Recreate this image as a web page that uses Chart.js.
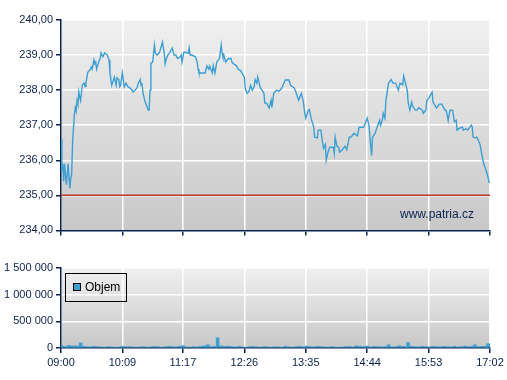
<!DOCTYPE html>
<html>
<head>
<meta charset="utf-8">
<script src="https://cdn.jsdelivr.net/npm/chart.js@4.4.0/dist/chart.umd.min.js"></script>
<style>
  body { margin: 0; background: #fff; }
  #wrap { position: relative; width: 507px; height: 380px; }
  canvas { position: absolute; left: 0; }
</style>
</head>
<body>
<div id="wrap">
  <canvas id="priceChart" width="507" height="240" style="top:0"></canvas>
  <canvas id="volChart" width="507" height="130" style="top:250px"></canvas>
</div>
<script>
// casove znacky osy x
var timeLabels = ['09:00', '10:09', '11:17', '12:26', '13:35', '14:44', '15:53', '17:02'];

// minuty od 09:00 a cena
var priceMinutes = [0, 1, 2, 3, 4, 6, 7, 8, 9, 10, 11, 12, 13, 15, 16, 17, 18, 19, 20, 21, 22, 24, 26, 27, 28, 30, 33, 34, 35, 37,
    38, 39, 40, 43, 44, 45, 47, 49, 52, 54, 55, 57, 60, 62, 63, 65, 66, 67, 69, 71, 73, 75, 78, 80, 81, 83, 85, 87, 89, 90,
    91, 92, 94, 96, 98, 99, 100, 101, 103, 105, 106, 108, 110, 111, 114, 116, 117, 118, 120, 122, 125, 127, 129, 131, 134, 135, 136, 138, 140, 143,
    144, 145, 147, 151, 153, 154, 155, 158, 162, 164, 166, 167, 170, 171, 173, 175, 178, 180, 181, 182, 183, 185, 188, 191, 192, 194, 197, 199, 202, 203,
    206, 207, 209, 211, 213, 215, 217, 218, 220, 221, 224, 226, 228, 229, 231, 234, 236, 237, 239, 242, 245, 248, 252, 256, 258, 262, 264, 267, 270, 272,
    274, 275, 278, 279, 281, 284, 285, 288, 289, 292, 293, 295, 297, 298, 300, 302, 306, 307, 308, 310, 312, 313, 316, 319, 321, 324, 326, 329, 333, 335,
    340, 341, 344, 346, 348, 349, 350, 353, 354, 356, 358, 359, 361, 362, 364, 365, 366, 368, 371, 373, 376, 379, 381, 384, 385, 386, 389, 390, 392, 394,
    395, 398, 400, 402, 406, 407, 410, 411, 413, 417, 418, 420, 422, 425, 428, 430, 433, 435, 437, 440, 442, 444, 445, 447, 451, 452, 455, 457, 461, 462,
    463, 465, 467, 469, 471, 473, 475, 479, 481, 482];
var priceValues = [236.6, 235.7, 235.9, 235.4, 235.9, 235.3, 235.6, 235.9, 235.5, 235.2, 235.5, 235.6, 236.5, 237.3, 237.5, 237.4, 237.7, 237.6, 237.95, 237.8, 237.7, 238.15, 238.2, 238.1, 238.2, 238.5, 238.6, 238.66, 238.6, 238.86,
    238.75, 238.8, 238.6, 238.85, 238.9, 239.06, 238.95, 239.06, 239.0, 238.86, 238.49, 238.14, 238.37, 238.14, 238.35, 238.3, 238.1, 238.14, 238.49, 238.09, 238.2, 238.1, 238.05, 238.0, 237.94, 238.0, 238.05, 238.2, 238.3, 238.14,
    238.2, 237.94, 237.71, 237.57, 237.43, 237.43, 238.0, 238.77, 238.8, 239.29, 239.06, 239.0, 239.05, 239.1, 239.37, 239.06, 238.75, 238.86, 239.0, 239.06, 239.2, 239.0, 239.0, 238.9, 238.95, 239.0, 238.8, 239.08, 239.08, 239.05,
    239.2, 239.0, 239.0, 238.95, 238.8, 238.6, 238.49, 238.49, 238.49, 238.69, 238.6, 238.69, 238.49, 238.7, 238.49, 238.8, 238.9, 239.29, 239.06, 238.95, 239.0, 238.8, 238.9, 238.9, 238.8, 238.75, 238.7, 238.6, 238.55, 238.5,
    238.37, 238.06, 237.91, 237.95, 238.14, 238.0, 238.1, 238.3, 238.2, 238.37, 238.06, 238.0, 237.91, 237.63, 237.63, 237.49, 237.71, 237.51, 237.91, 238.0, 237.97, 238.06, 238.29, 238.29, 238.14, 238.06, 237.94, 237.71, 237.91, 237.71,
    237.34, 237.2, 237.43, 237.45, 237.2, 236.94, 236.66, 236.64, 236.86, 236.86, 236.66, 236.34, 236.45, 236.0, 236.23, 236.37, 236.37, 236.2, 236.66, 236.4, 236.37, 236.23, 236.3, 236.4, 236.3, 236.66, 236.66, 236.77, 236.7, 236.94,
    236.94, 237.0, 237.2, 237.0, 236.4, 236.14, 236.66, 236.77, 236.86, 237.0, 237.14, 237.0, 237.14, 237.34, 237.2, 237.71, 237.86, 238.2, 238.3, 238.2, 238.2, 238.0, 238.2, 238.15, 238.4, 238.3, 238.0, 237.66, 237.43, 237.66,
    237.55, 237.43, 237.43, 237.5, 237.43, 237.34, 237.43, 237.71, 237.76, 237.94, 237.66, 237.57, 237.49, 237.6, 237.6, 237.49, 237.4, 237.14, 237.43, 237.43, 237.1, 237.14, 236.86, 236.9, 236.95, 236.86, 236.9, 236.86, 237.0, 236.95,
    236.66, 236.64, 236.66, 236.57, 236.43, 236.14, 235.9, 235.6, 235.37, 235.37];

// predchozi zaviraci cena
var refLevel = 235;

// objem
var volMinutes = [0, 3, 6, 9, 13, 16, 19, 22, 25, 29, 33, 37, 41, 45, 49, 53, 57, 61, 65, 69, 73, 77, 81, 85, 89, 93, 97, 101, 105, 109,
    113, 117, 121, 125, 129, 133, 137, 141, 145, 149, 153, 157, 161, 165, 169, 173, 176, 180, 184, 188, 192, 196, 200, 204, 208, 212, 216, 220, 224, 228,
    232, 236, 240, 244, 248, 252, 256, 260, 264, 268, 272, 276, 280, 284, 288, 292, 296, 300, 304, 308, 312, 316, 320, 324, 328, 332, 336, 340, 344, 348,
    352, 356, 360, 364, 368, 372, 376, 380, 384, 388, 390, 394, 398, 402, 406, 410, 414, 418, 422, 426, 430, 434, 438, 442, 446, 450, 454, 458, 462, 465,
    469, 473, 477, 480];
var volValues = [55000, 30000, 25000, 50000, 35000, 40000, 30000, 95000, 30000, 25000, 20000, 30000, 25000, 20000, 15000, 25000, 20000, 15000, 20000, 30000, 25000, 25000, 20000, 15000, 20000, 25000, 15000, 20000, 30000, 25000,
    15000, 20000, 30000, 25000, 20000, 30000, 45000, 20000, 15000, 25000, 20000, 30000, 40000, 60000, 25000, 30000, 190000, 40000, 30000, 35000, 25000, 20000, 30000, 20000, 15000, 25000, 30000, 20000, 15000, 25000,
    20000, 15000, 25000, 20000, 15000, 30000, 20000, 15000, 25000, 30000, 20000, 35000, 25000, 20000, 30000, 25000, 20000, 15000, 25000, 20000, 15000, 20000, 25000, 30000, 20000, 40000, 30000, 25000, 35000, 20000,
    30000, 25000, 20000, 25000, 60000, 20000, 25000, 40000, 30000, 25000, 100000, 30000, 25000, 20000, 30000, 25000, 20000, 30000, 25000, 20000, 30000, 25000, 20000, 30000, 20000, 25000, 35000, 25000, 30000, 60000,
    25000, 30000, 35000, 80000];

var navy = '#0b2150';
var lineBlue = '#3d9fd2';
var fontSpec = { family: 'Liberation Sans, Arial, sans-serif', size: 11 };

function minutesOf(label) {
    var p = label.split(':');
    return (parseInt(p[0], 10) - 9) * 60 + parseInt(p[1], 10);
}
var timeTicks = timeLabels.map(minutesOf);

function toPoints(xs, ys) {
    return xs.map(function (x, i) { return { x: x, y: ys[i] }; });
}

function spaced(n) {
    return String(n).replace(/\B(?=(\d{3})+(?!\d))/g, ' ');
}

var panelBg = {
    id: 'panelBg',
    beforeDraw: function (chart) {
        var a = chart.chartArea, ctx = chart.ctx;
        var g = ctx.createLinearGradient(0, a.top, 0, a.bottom);
        g.addColorStop(0, '#f0f0f0');
        g.addColorStop(1, '#c8c8c8');
        ctx.save();
        ctx.fillStyle = g;
        ctx.fillRect(a.left, a.top, a.right - a.left, a.bottom - a.top);
        ctx.restore();
    }
};

function xAxis(showLabels) {
    return {
        type: 'linear',
        min: 0,
        max: timeTicks[timeTicks.length - 1],
        offset: false,
        afterBuildTicks: function (s) {
            s.ticks = timeTicks.map(function (v) { return { value: v }; });
        },
        afterFit: function (s) { s.height = showLabels ? 22 : 9; },
        grid: { color: '#ffffff', lineWidth: 1.5, tickColor: navy, tickLength: 5, offset: false },
        border: { color: navy, width: 1.5 },
        ticks: {
            display: showLabels,
            color: navy,
            font: fontSpec,
            padding: 3,
            maxRotation: 0,
            autoSkip: false,
            callback: function (v) { return timeLabels[timeTicks.indexOf(v)]; }
        }
    };
}

function yAxis(min, max, step, fmt) {
    return {
        min: min,
        max: max,
        afterFit: function (s) { s.width = 61; },
        grid: { color: '#ffffff', lineWidth: 1.5, tickColor: navy, tickLength: 5 },
        border: { color: navy, width: 1.5 },
        ticks: { stepSize: step, color: navy, font: fontSpec, padding: 3, callback: fmt }
    };
}

new Chart(document.getElementById('priceChart').getContext('2d'), {
    type: 'line',
    data: {
        datasets: [{
            data: [{ x: 0, y: refLevel }, { x: timeTicks[timeTicks.length - 1], y: refLevel }],
            borderColor: '#c0392b',
            borderWidth: 1.5,
            pointRadius: 0
        }, {
            data: toPoints(priceMinutes, priceValues),
            borderColor: lineBlue,
            borderWidth: 1.4,
            pointRadius: 0,
            tension: 0
        }]
    },
    options: {
        responsive: false,
        animation: false,
        layout: { padding: { top: 20, right: 17, left: 0, bottom: 0 } },
        plugins: { legend: { display: false }, tooltip: { enabled: false } },
        scales: {
            x: xAxis(false),
            y: yAxis(234, 240, 1, function (v) { return v.toFixed(2).replace('.', ','); })
        }
    },
    plugins: [panelBg, {
        id: 'watermark',
        afterDraw: function (chart) {
            var a = chart.chartArea, ctx = chart.ctx;
            ctx.save();
            ctx.fillStyle = navy;
            ctx.font = '12px Liberation Sans, Arial, sans-serif';
            ctx.textAlign = 'right';
            ctx.textBaseline = 'middle';
            ctx.fillText('www.patria.cz', a.right - 16, a.bottom - 16);
            ctx.restore();
        }
    }]
});

new Chart(document.getElementById('volChart').getContext('2d'), {
    type: 'bar',
    data: {
        datasets: [{
            label: 'Objem',
            data: toPoints(volMinutes, volValues),
            backgroundColor: lineBlue,
            barThickness: 3,
            grouped: false
        }]
    },
    options: {
        responsive: false,
        animation: false,
        layout: { padding: { top: 18, right: 17, left: 0, bottom: 10 } },
        plugins: { legend: { display: false }, tooltip: { enabled: false } },
        scales: {
            x: xAxis(true),
            y: yAxis(0, 1500000, 500000, function (v) { return spaced(v); })
        }
    },
    plugins: [panelBg, {
        id: 'legendBox',
        afterDraw: function (chart) {
            var a = chart.chartArea, ctx = chart.ctx;
            var x = a.left + 4, y = a.top + 5;
            ctx.save();
            ctx.strokeStyle = '#000000';
            ctx.lineWidth = 1;
            ctx.strokeRect(x + 0.5, y + 0.5, 61, 28);
            ctx.fillStyle = lineBlue;
            ctx.fillRect(x + 8, y + 10, 8, 8);
            ctx.strokeRect(x + 8.5, y + 10.5, 7, 7);
            ctx.fillStyle = '#000000';
            ctx.font = '12px Liberation Sans, Arial, sans-serif';
            ctx.textBaseline = 'middle';
            ctx.fillText('Objem', x + 20, y + 15);
            ctx.restore();
        }
    }]
});
</script>
</body>
</html>
